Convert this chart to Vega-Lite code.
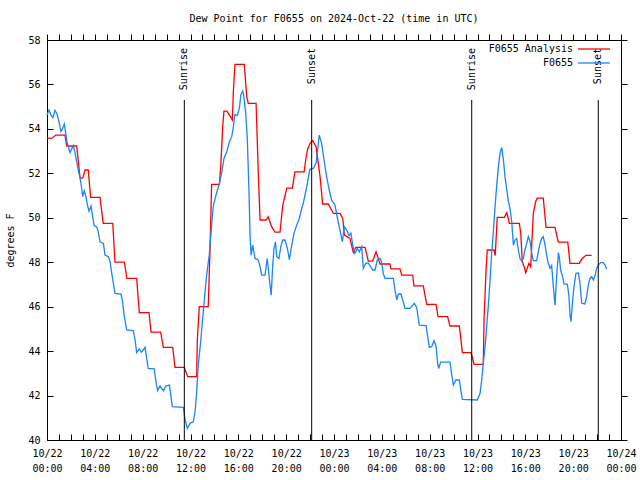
{
"$schema": "https://vega.github.io/schema/vega-lite/v6.json",
"width": 574, "height": 400,
"autosize": "none",
"padding": {"left": 47, "top": 40, "right": 19, "bottom": 40},
"background": "white",
"config": {"font": "DejaVu Sans Mono", "view": {"stroke": null}},
"title": {"text": "Dew Point for F0655 on 2024-Oct-22 (time in UTC)", "font": "DejaVu Sans Mono", "fontSize": 10, "fontWeight": "normal", "color": "black", "anchor": "middle", "offset": 10},
"datasets": {
"events": [
{"e": "Sunrise", "t": "2024-10-22T11:29Z"},
{"e": "Sunset", "t": "2024-10-22T22:08Z"},
{"e": "Sunrise", "t": "2024-10-23T11:31Z"},
{"e": "Sunset", "t": "2024-10-23T22:06Z"}
],
"dew": [
{"s":"F0655 Analysis","t":"2024-10-22T00:00Z","v":53.58},
{"s":"F0655 Analysis","t":"2024-10-22T00:25Z","v":53.58},
{"s":"F0655 Analysis","t":"2024-10-22T00:44Z","v":53.72},
{"s":"F0655 Analysis","t":"2024-10-22T01:30Z","v":53.72},
{"s":"F0655 Analysis","t":"2024-10-22T01:39Z","v":53.23},
{"s":"F0655 Analysis","t":"2024-10-22T02:29Z","v":53.23},
{"s":"F0655 Analysis","t":"2024-10-22T02:46Z","v":51.78},
{"s":"F0655 Analysis","t":"2024-10-22T02:59Z","v":51.78},
{"s":"F0655 Analysis","t":"2024-10-22T03:11Z","v":52.15},
{"s":"F0655 Analysis","t":"2024-10-22T03:27Z","v":52.15},
{"s":"F0655 Analysis","t":"2024-10-22T03:39Z","v":50.92},
{"s":"F0655 Analysis","t":"2024-10-22T04:26Z","v":50.92},
{"s":"F0655 Analysis","t":"2024-10-22T04:42Z","v":49.75},
{"s":"F0655 Analysis","t":"2024-10-22T05:30Z","v":49.75},
{"s":"F0655 Analysis","t":"2024-10-22T05:41Z","v":48.0},
{"s":"F0655 Analysis","t":"2024-10-22T06:28Z","v":48.0},
{"s":"F0655 Analysis","t":"2024-10-22T06:41Z","v":47.27},
{"s":"F0655 Analysis","t":"2024-10-22T07:30Z","v":47.27},
{"s":"F0655 Analysis","t":"2024-10-22T07:43Z","v":45.73},
{"s":"F0655 Analysis","t":"2024-10-22T08:32Z","v":45.73},
{"s":"F0655 Analysis","t":"2024-10-22T08:42Z","v":44.85},
{"s":"F0655 Analysis","t":"2024-10-22T09:30Z","v":44.85},
{"s":"F0655 Analysis","t":"2024-10-22T09:44Z","v":44.17},
{"s":"F0655 Analysis","t":"2024-10-22T10:31Z","v":44.17},
{"s":"F0655 Analysis","t":"2024-10-22T10:42Z","v":43.27},
{"s":"F0655 Analysis","t":"2024-10-22T11:29Z","v":43.27},
{"s":"F0655 Analysis","t":"2024-10-22T11:46Z","v":42.85},
{"s":"F0655 Analysis","t":"2024-10-22T12:31Z","v":42.85},
{"s":"F0655 Analysis","t":"2024-10-22T12:34Z","v":44.45},
{"s":"F0655 Analysis","t":"2024-10-22T12:44Z","v":46.0},
{"s":"F0655 Analysis","t":"2024-10-22T13:29Z","v":46.0},
{"s":"F0655 Analysis","t":"2024-10-22T13:38Z","v":48.6},
{"s":"F0655 Analysis","t":"2024-10-22T13:46Z","v":51.5},
{"s":"F0655 Analysis","t":"2024-10-22T14:25Z","v":51.5},
{"s":"F0655 Analysis","t":"2024-10-22T14:32Z","v":52.37},
{"s":"F0655 Analysis","t":"2024-10-22T14:42Z","v":54.17},
{"s":"F0655 Analysis","t":"2024-10-22T14:48Z","v":54.8},
{"s":"F0655 Analysis","t":"2024-10-22T15:03Z","v":54.8},
{"s":"F0655 Analysis","t":"2024-10-22T15:20Z","v":54.55},
{"s":"F0655 Analysis","t":"2024-10-22T15:30Z","v":54.4},
{"s":"F0655 Analysis","t":"2024-10-22T15:35Z","v":55.67},
{"s":"F0655 Analysis","t":"2024-10-22T15:43Z","v":56.9},
{"s":"F0655 Analysis","t":"2024-10-22T16:30Z","v":56.9},
{"s":"F0655 Analysis","t":"2024-10-22T16:42Z","v":55.45},
{"s":"F0655 Analysis","t":"2024-10-22T16:50Z","v":55.15},
{"s":"F0655 Analysis","t":"2024-10-22T17:29Z","v":55.15},
{"s":"F0655 Analysis","t":"2024-10-22T17:40Z","v":52.07},
{"s":"F0655 Analysis","t":"2024-10-22T17:49Z","v":49.9},
{"s":"F0655 Analysis","t":"2024-10-22T18:19Z","v":49.9},
{"s":"F0655 Analysis","t":"2024-10-22T18:30Z","v":50.05},
{"s":"F0655 Analysis","t":"2024-10-22T18:47Z","v":49.6},
{"s":"F0655 Analysis","t":"2024-10-22T19:04Z","v":49.35},
{"s":"F0655 Analysis","t":"2024-10-22T19:29Z","v":49.35},
{"s":"F0655 Analysis","t":"2024-10-22T19:43Z","v":50.57},
{"s":"F0655 Analysis","t":"2024-10-22T20:03Z","v":51.33},
{"s":"F0655 Analysis","t":"2024-10-22T20:31Z","v":51.33},
{"s":"F0655 Analysis","t":"2024-10-22T20:44Z","v":52.07},
{"s":"F0655 Analysis","t":"2024-10-22T21:30Z","v":52.07},
{"s":"F0655 Analysis","t":"2024-10-22T21:38Z","v":52.6},
{"s":"F0655 Analysis","t":"2024-10-22T21:48Z","v":53.1},
{"s":"F0655 Analysis","t":"2024-10-22T22:00Z","v":53.35},
{"s":"F0655 Analysis","t":"2024-10-22T22:13Z","v":53.47},
{"s":"F0655 Analysis","t":"2024-10-22T22:30Z","v":53.2},
{"s":"F0655 Analysis","t":"2024-10-22T22:50Z","v":51.85},
{"s":"F0655 Analysis","t":"2024-10-22T23:03Z","v":50.62},
{"s":"F0655 Analysis","t":"2024-10-22T23:31Z","v":50.62},
{"s":"F0655 Analysis","t":"2024-10-22T23:57Z","v":50.2},
{"s":"F0655 Analysis","t":"2024-10-23T00:30Z","v":50.2},
{"s":"F0655 Analysis","t":"2024-10-23T00:44Z","v":49.97},
{"s":"F0655 Analysis","t":"2024-10-23T00:52Z","v":49.22},
{"s":"F0655 Analysis","t":"2024-10-23T01:20Z","v":49.07},
{"s":"F0655 Analysis","t":"2024-10-23T01:37Z","v":48.43},
{"s":"F0655 Analysis","t":"2024-10-23T01:50Z","v":48.67},
{"s":"F0655 Analysis","t":"2024-10-23T02:36Z","v":48.67},
{"s":"F0655 Analysis","t":"2024-10-23T02:52Z","v":48.05},
{"s":"F0655 Analysis","t":"2024-10-23T03:14Z","v":48.05},
{"s":"F0655 Analysis","t":"2024-10-23T03:31Z","v":48.47},
{"s":"F0655 Analysis","t":"2024-10-23T03:51Z","v":47.92},
{"s":"F0655 Analysis","t":"2024-10-23T04:41Z","v":47.92},
{"s":"F0655 Analysis","t":"2024-10-23T04:46Z","v":47.7},
{"s":"F0655 Analysis","t":"2024-10-23T05:31Z","v":47.7},
{"s":"F0655 Analysis","t":"2024-10-23T05:40Z","v":47.42},
{"s":"F0655 Analysis","t":"2024-10-23T06:35Z","v":47.42},
{"s":"F0655 Analysis","t":"2024-10-23T06:41Z","v":46.94},
{"s":"F0655 Analysis","t":"2024-10-23T07:28Z","v":46.94},
{"s":"F0655 Analysis","t":"2024-10-23T07:45Z","v":46.1},
{"s":"F0655 Analysis","t":"2024-10-23T08:32Z","v":46.1},
{"s":"F0655 Analysis","t":"2024-10-23T08:42Z","v":45.55},
{"s":"F0655 Analysis","t":"2024-10-23T09:30Z","v":45.55},
{"s":"F0655 Analysis","t":"2024-10-23T09:42Z","v":45.13},
{"s":"F0655 Analysis","t":"2024-10-23T10:29Z","v":45.13},
{"s":"F0655 Analysis","t":"2024-10-23T10:44Z","v":43.93},
{"s":"F0655 Analysis","t":"2024-10-23T11:28Z","v":43.93},
{"s":"F0655 Analysis","t":"2024-10-23T11:43Z","v":43.4},
{"s":"F0655 Analysis","t":"2024-10-23T12:29Z","v":43.4},
{"s":"F0655 Analysis","t":"2024-10-23T12:33Z","v":45.5},
{"s":"F0655 Analysis","t":"2024-10-23T12:43Z","v":47.65},
{"s":"F0655 Analysis","t":"2024-10-23T12:49Z","v":48.55},
{"s":"F0655 Analysis","t":"2024-10-23T13:23Z","v":48.55},
{"s":"F0655 Analysis","t":"2024-10-23T13:29Z","v":48.3},
{"s":"F0655 Analysis","t":"2024-10-23T13:39Z","v":50.02},
{"s":"F0655 Analysis","t":"2024-10-23T14:15Z","v":50.02},
{"s":"F0655 Analysis","t":"2024-10-23T14:27Z","v":50.23},
{"s":"F0655 Analysis","t":"2024-10-23T14:40Z","v":49.75},
{"s":"F0655 Analysis","t":"2024-10-23T15:30Z","v":49.75},
{"s":"F0655 Analysis","t":"2024-10-23T15:37Z","v":49.3},
{"s":"F0655 Analysis","t":"2024-10-23T15:45Z","v":48.02},
{"s":"F0655 Analysis","t":"2024-10-23T15:55Z","v":47.77},
{"s":"F0655 Analysis","t":"2024-10-23T16:02Z","v":47.53},
{"s":"F0655 Analysis","t":"2024-10-23T16:18Z","v":47.95},
{"s":"F0655 Analysis","t":"2024-10-23T16:27Z","v":47.8},
{"s":"F0655 Analysis","t":"2024-10-23T16:35Z","v":49.3},
{"s":"F0655 Analysis","t":"2024-10-23T16:40Z","v":50.2},
{"s":"F0655 Analysis","t":"2024-10-23T16:52Z","v":50.73},
{"s":"F0655 Analysis","t":"2024-10-23T17:00Z","v":50.88},
{"s":"F0655 Analysis","t":"2024-10-23T17:30Z","v":50.88},
{"s":"F0655 Analysis","t":"2024-10-23T17:44Z","v":49.57},
{"s":"F0655 Analysis","t":"2024-10-23T18:29Z","v":49.57},
{"s":"F0655 Analysis","t":"2024-10-23T18:45Z","v":48.9},
{"s":"F0655 Analysis","t":"2024-10-23T19:33Z","v":48.9},
{"s":"F0655 Analysis","t":"2024-10-23T19:44Z","v":47.95},
{"s":"F0655 Analysis","t":"2024-10-23T20:31Z","v":47.95},
{"s":"F0655 Analysis","t":"2024-10-23T20:43Z","v":48.15},
{"s":"F0655 Analysis","t":"2024-10-23T21:04Z","v":48.31},
{"s":"F0655 Analysis","t":"2024-10-23T21:33Z","v":48.31},
{"s":"F0655","t":"2024-10-22T00:00Z","v":54.62},
{"s":"F0655","t":"2024-10-22T00:10Z","v":54.85},
{"s":"F0655","t":"2024-10-22T00:20Z","v":54.62},
{"s":"F0655","t":"2024-10-22T00:30Z","v":54.52},
{"s":"F0655","t":"2024-10-22T00:40Z","v":54.83},
{"s":"F0655","t":"2024-10-22T00:50Z","v":54.68},
{"s":"F0655","t":"2024-10-22T01:00Z","v":54.33},
{"s":"F0655","t":"2024-10-22T01:10Z","v":53.88},
{"s":"F0655","t":"2024-10-22T01:17Z","v":54.0},
{"s":"F0655","t":"2024-10-22T01:27Z","v":54.22},
{"s":"F0655","t":"2024-10-22T01:34Z","v":53.8},
{"s":"F0655","t":"2024-10-22T01:40Z","v":53.42},
{"s":"F0655","t":"2024-10-22T01:47Z","v":53.2},
{"s":"F0655","t":"2024-10-22T01:55Z","v":52.93},
{"s":"F0655","t":"2024-10-22T02:04Z","v":53.1},
{"s":"F0655","t":"2024-10-22T02:12Z","v":53.25},
{"s":"F0655","t":"2024-10-22T02:20Z","v":52.95},
{"s":"F0655","t":"2024-10-22T02:29Z","v":52.53},
{"s":"F0655","t":"2024-10-22T02:37Z","v":52.15},
{"s":"F0655","t":"2024-10-22T02:46Z","v":51.78},
{"s":"F0655","t":"2024-10-22T02:54Z","v":51.33},
{"s":"F0655","t":"2024-10-22T02:59Z","v":50.95},
{"s":"F0655","t":"2024-10-22T03:07Z","v":51.22},
{"s":"F0655","t":"2024-10-22T03:14Z","v":51.0},
{"s":"F0655","t":"2024-10-22T03:24Z","v":50.53},
{"s":"F0655","t":"2024-10-22T03:31Z","v":50.3},
{"s":"F0655","t":"2024-10-22T03:41Z","v":50.53},
{"s":"F0655","t":"2024-10-22T03:49Z","v":50.05},
{"s":"F0655","t":"2024-10-22T03:57Z","v":49.63},
{"s":"F0655","t":"2024-10-22T04:09Z","v":49.6},
{"s":"F0655","t":"2024-10-22T04:17Z","v":49.38},
{"s":"F0655","t":"2024-10-22T04:26Z","v":48.92},
{"s":"F0655","t":"2024-10-22T04:43Z","v":48.85},
{"s":"F0655","t":"2024-10-22T04:51Z","v":48.32},
{"s":"F0655","t":"2024-10-22T05:08Z","v":48.25},
{"s":"F0655","t":"2024-10-22T05:16Z","v":48.05},
{"s":"F0655","t":"2024-10-22T05:25Z","v":47.5},
{"s":"F0655","t":"2024-10-22T05:33Z","v":47.05},
{"s":"F0655","t":"2024-10-22T05:41Z","v":46.6},
{"s":"F0655","t":"2024-10-22T06:11Z","v":46.57},
{"s":"F0655","t":"2024-10-22T06:18Z","v":46.3},
{"s":"F0655","t":"2024-10-22T06:28Z","v":45.55},
{"s":"F0655","t":"2024-10-22T06:40Z","v":44.95},
{"s":"F0655","t":"2024-10-22T07:13Z","v":44.92},
{"s":"F0655","t":"2024-10-22T07:22Z","v":44.5},
{"s":"F0655","t":"2024-10-22T07:30Z","v":43.93},
{"s":"F0655","t":"2024-10-22T07:42Z","v":44.1},
{"s":"F0655","t":"2024-10-22T07:55Z","v":43.95},
{"s":"F0655","t":"2024-10-22T08:12Z","v":44.17},
{"s":"F0655","t":"2024-10-22T08:20Z","v":43.67},
{"s":"F0655","t":"2024-10-22T08:28Z","v":43.22},
{"s":"F0655","t":"2024-10-22T08:58Z","v":43.2},
{"s":"F0655","t":"2024-10-22T09:07Z","v":42.62},
{"s":"F0655","t":"2024-10-22T09:15Z","v":42.22},
{"s":"F0655","t":"2024-10-22T09:27Z","v":42.43},
{"s":"F0655","t":"2024-10-22T09:44Z","v":42.22},
{"s":"F0655","t":"2024-10-22T09:56Z","v":42.43},
{"s":"F0655","t":"2024-10-22T10:14Z","v":42.47},
{"s":"F0655","t":"2024-10-22T10:21Z","v":42.02},
{"s":"F0655","t":"2024-10-22T10:29Z","v":41.5},
{"s":"F0655","t":"2024-10-22T11:24Z","v":41.47},
{"s":"F0655","t":"2024-10-22T11:32Z","v":40.97},
{"s":"F0655","t":"2024-10-22T11:44Z","v":40.52},
{"s":"F0655","t":"2024-10-22T11:58Z","v":40.75},
{"s":"F0655","t":"2024-10-22T12:14Z","v":40.82},
{"s":"F0655","t":"2024-10-22T12:23Z","v":41.27},
{"s":"F0655","t":"2024-10-22T12:31Z","v":42.17},
{"s":"F0655","t":"2024-10-22T12:39Z","v":43.37},
{"s":"F0655","t":"2024-10-22T12:51Z","v":44.42},
{"s":"F0655","t":"2024-10-22T13:01Z","v":45.47},
{"s":"F0655","t":"2024-10-22T13:13Z","v":46.67},
{"s":"F0655","t":"2024-10-22T13:21Z","v":47.42},
{"s":"F0655","t":"2024-10-22T13:34Z","v":48.32},
{"s":"F0655","t":"2024-10-22T13:46Z","v":49.67},
{"s":"F0655","t":"2024-10-22T13:54Z","v":50.5},
{"s":"F0655","t":"2024-10-22T14:08Z","v":51.02},
{"s":"F0655","t":"2024-10-22T14:25Z","v":51.55},
{"s":"F0655","t":"2024-10-22T14:37Z","v":52.07},
{"s":"F0655","t":"2024-10-22T14:48Z","v":52.67},
{"s":"F0655","t":"2024-10-22T15:02Z","v":52.97},
{"s":"F0655","t":"2024-10-22T15:15Z","v":53.42},
{"s":"F0655","t":"2024-10-22T15:27Z","v":53.65},
{"s":"F0655","t":"2024-10-22T15:35Z","v":54.1},
{"s":"F0655","t":"2024-10-22T15:43Z","v":54.65},
{"s":"F0655","t":"2024-10-22T15:55Z","v":54.6},
{"s":"F0655","t":"2024-10-22T16:05Z","v":54.92},
{"s":"F0655","t":"2024-10-22T16:13Z","v":55.55},
{"s":"F0655","t":"2024-10-22T16:22Z","v":55.7},
{"s":"F0655","t":"2024-10-22T16:28Z","v":55.45},
{"s":"F0655","t":"2024-10-22T16:37Z","v":54.7},
{"s":"F0655","t":"2024-10-22T16:45Z","v":53.58},
{"s":"F0655","t":"2024-10-22T16:54Z","v":51.02},
{"s":"F0655","t":"2024-10-22T16:59Z","v":49.15},
{"s":"F0655","t":"2024-10-22T17:04Z","v":48.32},
{"s":"F0655","t":"2024-10-22T17:12Z","v":48.77},
{"s":"F0655","t":"2024-10-22T17:24Z","v":48.17},
{"s":"F0655","t":"2024-10-22T17:40Z","v":48.1},
{"s":"F0655","t":"2024-10-22T17:49Z","v":47.8},
{"s":"F0655","t":"2024-10-22T17:57Z","v":47.42},
{"s":"F0655","t":"2024-10-22T18:14Z","v":47.42},
{"s":"F0655","t":"2024-10-22T18:25Z","v":48.17},
{"s":"F0655","t":"2024-10-22T18:30Z","v":47.75},
{"s":"F0655","t":"2024-10-22T18:39Z","v":46.97},
{"s":"F0655","t":"2024-10-22T18:45Z","v":46.52},
{"s":"F0655","t":"2024-10-22T18:52Z","v":47.8},
{"s":"F0655","t":"2024-10-22T18:59Z","v":48.62},
{"s":"F0655","t":"2024-10-22T19:06Z","v":48.92},
{"s":"F0655","t":"2024-10-22T19:13Z","v":48.25},
{"s":"F0655","t":"2024-10-22T19:24Z","v":48.17},
{"s":"F0655","t":"2024-10-22T19:33Z","v":48.7},
{"s":"F0655","t":"2024-10-22T19:43Z","v":49.0},
{"s":"F0655","t":"2024-10-22T19:54Z","v":49.0},
{"s":"F0655","t":"2024-10-22T20:06Z","v":48.62},
{"s":"F0655","t":"2024-10-22T20:16Z","v":48.12},
{"s":"F0655","t":"2024-10-22T20:28Z","v":48.77},
{"s":"F0655","t":"2024-10-22T20:39Z","v":49.3},
{"s":"F0655","t":"2024-10-22T20:53Z","v":49.67},
{"s":"F0655","t":"2024-10-22T21:06Z","v":49.97},
{"s":"F0655","t":"2024-10-22T21:18Z","v":50.42},
{"s":"F0655","t":"2024-10-22T21:26Z","v":50.65},
{"s":"F0655","t":"2024-10-22T21:43Z","v":51.4},
{"s":"F0655","t":"2024-10-22T21:59Z","v":52.18},
{"s":"F0655","t":"2024-10-22T22:16Z","v":52.22},
{"s":"F0655","t":"2024-10-22T22:30Z","v":52.45},
{"s":"F0655","t":"2024-10-22T22:38Z","v":53.05},
{"s":"F0655","t":"2024-10-22T22:46Z","v":53.72},
{"s":"F0655","t":"2024-10-22T22:58Z","v":53.35},
{"s":"F0655","t":"2024-10-22T23:10Z","v":52.6},
{"s":"F0655","t":"2024-10-22T23:23Z","v":51.85},
{"s":"F0655","t":"2024-10-22T23:36Z","v":51.25},
{"s":"F0655","t":"2024-10-22T23:48Z","v":50.8},
{"s":"F0655","t":"2024-10-23T00:05Z","v":50.57},
{"s":"F0655","t":"2024-10-23T00:19Z","v":49.9},
{"s":"F0655","t":"2024-10-23T00:30Z","v":49.45},
{"s":"F0655","t":"2024-10-23T00:42Z","v":48.92},
{"s":"F0655","t":"2024-10-23T00:52Z","v":49.6},
{"s":"F0655","t":"2024-10-23T01:04Z","v":49.45},
{"s":"F0655","t":"2024-10-23T01:15Z","v":49.2},
{"s":"F0655","t":"2024-10-23T01:25Z","v":49.3},
{"s":"F0655","t":"2024-10-23T01:34Z","v":48.77},
{"s":"F0655","t":"2024-10-23T01:45Z","v":48.4},
{"s":"F0655","t":"2024-10-23T01:57Z","v":48.62},
{"s":"F0655","t":"2024-10-23T02:07Z","v":48.47},
{"s":"F0655","t":"2024-10-23T02:19Z","v":48.7},
{"s":"F0655","t":"2024-10-23T02:27Z","v":47.72},
{"s":"F0655","t":"2024-10-23T02:39Z","v":47.95},
{"s":"F0655","t":"2024-10-23T02:52Z","v":47.97},
{"s":"F0655","t":"2024-10-23T03:04Z","v":47.8},
{"s":"F0655","t":"2024-10-23T03:14Z","v":47.65},
{"s":"F0655","t":"2024-10-23T03:26Z","v":47.65},
{"s":"F0655","t":"2024-10-23T03:37Z","v":48.1},
{"s":"F0655","t":"2024-10-23T03:51Z","v":48.17},
{"s":"F0655","t":"2024-10-23T03:59Z","v":48.0},
{"s":"F0655","t":"2024-10-23T04:07Z","v":47.5},
{"s":"F0655","t":"2024-10-23T04:16Z","v":47.27},
{"s":"F0655","t":"2024-10-23T04:58Z","v":47.27},
{"s":"F0655","t":"2024-10-23T05:06Z","v":46.75},
{"s":"F0655","t":"2024-10-23T05:15Z","v":46.3},
{"s":"F0655","t":"2024-10-23T05:23Z","v":46.57},
{"s":"F0655","t":"2024-10-23T05:36Z","v":46.57},
{"s":"F0655","t":"2024-10-23T05:48Z","v":46.2},
{"s":"F0655","t":"2024-10-23T05:56Z","v":45.92},
{"s":"F0655","t":"2024-10-23T06:21Z","v":45.92},
{"s":"F0655","t":"2024-10-23T06:35Z","v":46.07},
{"s":"F0655","t":"2024-10-23T06:43Z","v":46.15},
{"s":"F0655","t":"2024-10-23T06:55Z","v":45.95},
{"s":"F0655","t":"2024-10-23T07:08Z","v":45.17},
{"s":"F0655","t":"2024-10-23T07:42Z","v":45.15},
{"s":"F0655","t":"2024-10-23T07:50Z","v":44.65},
{"s":"F0655","t":"2024-10-23T07:58Z","v":44.17},
{"s":"F0655","t":"2024-10-23T08:10Z","v":44.2},
{"s":"F0655","t":"2024-10-23T08:22Z","v":44.47},
{"s":"F0655","t":"2024-10-23T08:32Z","v":44.22},
{"s":"F0655","t":"2024-10-23T08:40Z","v":43.45},
{"s":"F0655","t":"2024-10-23T08:45Z","v":43.22},
{"s":"F0655","t":"2024-10-23T08:55Z","v":43.5},
{"s":"F0655","t":"2024-10-23T09:42Z","v":43.5},
{"s":"F0655","t":"2024-10-23T09:51Z","v":42.92},
{"s":"F0655","t":"2024-10-23T09:59Z","v":42.47},
{"s":"F0655","t":"2024-10-23T10:11Z","v":42.7},
{"s":"F0655","t":"2024-10-23T10:29Z","v":42.7},
{"s":"F0655","t":"2024-10-23T10:36Z","v":42.25},
{"s":"F0655","t":"2024-10-23T10:44Z","v":41.83},
{"s":"F0655","t":"2024-10-23T11:59Z","v":41.8},
{"s":"F0655","t":"2024-10-23T12:13Z","v":42.1},
{"s":"F0655","t":"2024-10-23T12:21Z","v":42.7},
{"s":"F0655","t":"2024-10-23T12:29Z","v":43.45},
{"s":"F0655","t":"2024-10-23T12:38Z","v":44.2},
{"s":"F0655","t":"2024-10-23T12:46Z","v":45.1},
{"s":"F0655","t":"2024-10-23T12:54Z","v":46.0},
{"s":"F0655","t":"2024-10-23T13:03Z","v":47.2},
{"s":"F0655","t":"2024-10-23T13:11Z","v":48.4},
{"s":"F0655","t":"2024-10-23T13:19Z","v":49.3},
{"s":"F0655","t":"2024-10-23T13:28Z","v":50.5},
{"s":"F0655","t":"2024-10-23T13:36Z","v":51.4},
{"s":"F0655","t":"2024-10-23T13:45Z","v":52.3},
{"s":"F0655","t":"2024-10-23T13:53Z","v":52.9},
{"s":"F0655","t":"2024-10-23T14:01Z","v":53.17},
{"s":"F0655","t":"2024-10-23T14:10Z","v":52.6},
{"s":"F0655","t":"2024-10-23T14:18Z","v":51.85},
{"s":"F0655","t":"2024-10-23T14:27Z","v":51.25},
{"s":"F0655","t":"2024-10-23T14:35Z","v":50.73},
{"s":"F0655","t":"2024-10-23T14:43Z","v":50.42},
{"s":"F0655","t":"2024-10-23T14:52Z","v":49.8},
{"s":"F0655","t":"2024-10-23T15:00Z","v":48.77},
{"s":"F0655","t":"2024-10-23T15:08Z","v":49.0},
{"s":"F0655","t":"2024-10-23T15:17Z","v":49.07},
{"s":"F0655","t":"2024-10-23T15:25Z","v":48.55},
{"s":"F0655","t":"2024-10-23T15:33Z","v":48.17},
{"s":"F0655","t":"2024-10-23T15:42Z","v":48.05},
{"s":"F0655","t":"2024-10-23T15:50Z","v":48.17},
{"s":"F0655","t":"2024-10-23T15:58Z","v":48.55},
{"s":"F0655","t":"2024-10-23T16:07Z","v":48.85},
{"s":"F0655","t":"2024-10-23T16:15Z","v":49.15},
{"s":"F0655","t":"2024-10-23T16:24Z","v":48.92},
{"s":"F0655","t":"2024-10-23T16:32Z","v":48.4},
{"s":"F0655","t":"2024-10-23T16:40Z","v":48.07},
{"s":"F0655","t":"2024-10-23T16:57Z","v":48.07},
{"s":"F0655","t":"2024-10-23T17:05Z","v":48.47},
{"s":"F0655","t":"2024-10-23T17:14Z","v":48.85},
{"s":"F0655","t":"2024-10-23T17:22Z","v":49.07},
{"s":"F0655","t":"2024-10-23T17:30Z","v":49.15},
{"s":"F0655","t":"2024-10-23T17:39Z","v":48.77},
{"s":"F0655","t":"2024-10-23T17:47Z","v":48.32},
{"s":"F0655","t":"2024-10-23T17:55Z","v":47.95},
{"s":"F0655","t":"2024-10-23T18:04Z","v":47.72},
{"s":"F0655","t":"2024-10-23T18:12Z","v":47.85},
{"s":"F0655","t":"2024-10-23T18:20Z","v":46.97},
{"s":"F0655","t":"2024-10-23T18:29Z","v":46.07},
{"s":"F0655","t":"2024-10-23T18:37Z","v":47.35},
{"s":"F0655","t":"2024-10-23T18:46Z","v":48.43},
{"s":"F0655","t":"2024-10-23T18:51Z","v":48.2},
{"s":"F0655","t":"2024-10-23T18:57Z","v":47.65},
{"s":"F0655","t":"2024-10-23T19:07Z","v":47.35},
{"s":"F0655","t":"2024-10-23T19:14Z","v":47.02},
{"s":"F0655","t":"2024-10-23T19:31Z","v":47.0},
{"s":"F0655","t":"2024-10-23T19:39Z","v":46.45},
{"s":"F0655","t":"2024-10-23T19:44Z","v":45.62},
{"s":"F0655","t":"2024-10-23T19:49Z","v":45.32},
{"s":"F0655","t":"2024-10-23T19:56Z","v":46.15},
{"s":"F0655","t":"2024-10-23T20:04Z","v":46.9},
{"s":"F0655","t":"2024-10-23T20:14Z","v":47.5},
{"s":"F0655","t":"2024-10-23T20:26Z","v":47.52},
{"s":"F0655","t":"2024-10-23T20:34Z","v":47.05},
{"s":"F0655","t":"2024-10-23T20:43Z","v":46.15},
{"s":"F0655","t":"2024-10-23T20:59Z","v":46.12},
{"s":"F0655","t":"2024-10-23T21:08Z","v":46.45},
{"s":"F0655","t":"2024-10-23T21:16Z","v":46.97},
{"s":"F0655","t":"2024-10-23T21:24Z","v":47.27},
{"s":"F0655","t":"2024-10-23T21:33Z","v":47.35},
{"s":"F0655","t":"2024-10-23T21:41Z","v":47.2},
{"s":"F0655","t":"2024-10-23T21:50Z","v":47.4},
{"s":"F0655","t":"2024-10-23T21:58Z","v":47.72},
{"s":"F0655","t":"2024-10-23T22:06Z","v":47.87},
{"s":"F0655","t":"2024-10-23T22:18Z","v":47.98},
{"s":"F0655","t":"2024-10-23T22:31Z","v":47.98},
{"s":"F0655","t":"2024-10-23T22:40Z","v":47.87},
{"s":"F0655","t":"2024-10-23T22:48Z","v":47.68}
]
},
"layer": [
{
"data": {"name": "dew"},
"mark": {"type": "line", "strokeWidth": 1.3},
"encoding": {
"x": {"field": "t", "type": "temporal",
"scale": {"type": "utc", "domain": [1729555200000, 1729728000000], "nice": false},
"axis": {"orient": "bottom", "title": null,
"values": [1729555200000,1729558800000,1729562400000,1729566000000,1729569600000,1729573200000,1729576800000,1729580400000,1729584000000,1729587600000,1729591200000,1729594800000,1729598400000,1729602000000,1729605600000,1729609200000,1729612800000,1729616400000,1729620000000,1729623600000,1729627200000,1729630800000,1729634400000,1729638000000,1729641600000,1729645200000,1729648800000,1729652400000,1729656000000,1729659600000,1729663200000,1729666800000,1729670400000,1729674000000,1729677600000,1729681200000,1729684800000,1729688400000,1729692000000,1729695600000,1729699200000,1729702800000,1729706400000,1729710000000,1729713600000,1729717200000,1729720800000,1729724400000,1729728000000],
"labelExpr": "utchours(datum.value) % 4 === 0 ? [utcFormat(datum.value, '%m/%d'), utcFormat(datum.value, '%H:%M')] : ''",
"labelOverlap": false, "labelFlush": false, "labelBound": false, "grid": false,
"domainColor": "black", "tickColor": "black", "tickSize": -6,
"encode": {"ticks": {"update": {"y2": {"signal": "utchours(datum.value) % 4 === 0 ? -6 : -3"}}}},
"labelPadding": 14, "labelFont": "DejaVu Sans Mono", "labelFontSize": 10, "labelColor": "black",
"labelLineHeight": 15, "labelBaseline": "top"}},
"y": {"field": "v", "type": "quantitative",
"scale": {"domain": [40, 58], "zero": false, "nice": false},
"axis": {"orient": "left", "title": "degrees F", "values": [40, 42, 44, 46, 48, 50, 52, 54, 56, 58],
"grid": false, "domainColor": "black", "tickColor": "black", "tickSize": -6, "labelPadding": 13,
"encode": {"ticks": {"update": {"x2": {"value": 6}}}},
"labelFont": "DejaVu Sans Mono", "labelFontSize": 10, "labelColor": "black",
"titleFont": "DejaVu Sans Mono", "titleFontSize": 10, "titleFontWeight": "normal", "titleColor": "black", "titlePadding": 12}},
"color": {"field": "s", "type": "nominal",
"scale": {"domain": ["F0655 Analysis", "F0655"], "range": ["#ff0000", "#1a85ff"]},
"legend": {"orient": "none", "legendX": 542, "legendY": 4, "title": null, "padding": 0,
"symbolType": "M-4,0H4", "symbolSize": 64, "symbolStrokeWidth": 1.3,
"labelAlign": "right", "labelOffset": -26, "labelFont": "DejaVu Sans Mono", "labelFontSize": 10, "labelColor": "black", "rowPadding": 4}}
}
},
{
"data": {"name": "events"},
"mark": {"type": "rule", "color": "black", "strokeWidth": 1},
"encoding": {
"x": {"field": "t", "type": "temporal",
"axis": {"orient": "top", "title": null, "labels": false, "grid": false,
"values": [1729555200000,1729558800000,1729562400000,1729566000000,1729569600000,1729573200000,1729576800000,1729580400000,1729584000000,1729587600000,1729591200000,1729594800000,1729598400000,1729602000000,1729605600000,1729609200000,1729612800000,1729616400000,1729620000000,1729623600000,1729627200000,1729630800000,1729634400000,1729638000000,1729641600000,1729645200000,1729648800000,1729652400000,1729656000000,1729659600000,1729663200000,1729666800000,1729670400000,1729674000000,1729677600000,1729681200000,1729684800000,1729688400000,1729692000000,1729695600000,1729699200000,1729702800000,1729706400000,1729710000000,1729713600000,1729717200000,1729720800000,1729724400000,1729728000000],
"domainColor": "black", "tickColor": "black", "tickSize": 6,
"encode": {"ticks": {"update": {"y2": {"signal": "utchours(datum.value) % 4 === 0 ? 6 : 3"}}}}}},
"y": {"datum": 40, "type": "quantitative",
"axis": {"orient": "right", "title": null, "labels": false, "values": [40, 42, 44, 46, 48, 50, 52, 54, 56, 58],
"grid": false, "domainColor": "black", "tickColor": "black", "tickSize": 6,
"encode": {"ticks": {"update": {"x2": {"value": -6}}}}}},
"y2": {"datum": 55.3}
}
},
{
"data": {"name": "events"},
"mark": {"type": "text", "angle": 270, "align": "right", "baseline": "middle", "font": "DejaVu Sans Mono", "fontSize": 10, "color": "black"},
"encoding": {
"x": {"field": "t", "type": "temporal", "axis": null},
"y": {"datum": 57.64, "type": "quantitative", "axis": null},
"text": {"field": "e"}
}
}
],
"resolve": {"axis": {"x": "independent", "y": "independent"}}
}
